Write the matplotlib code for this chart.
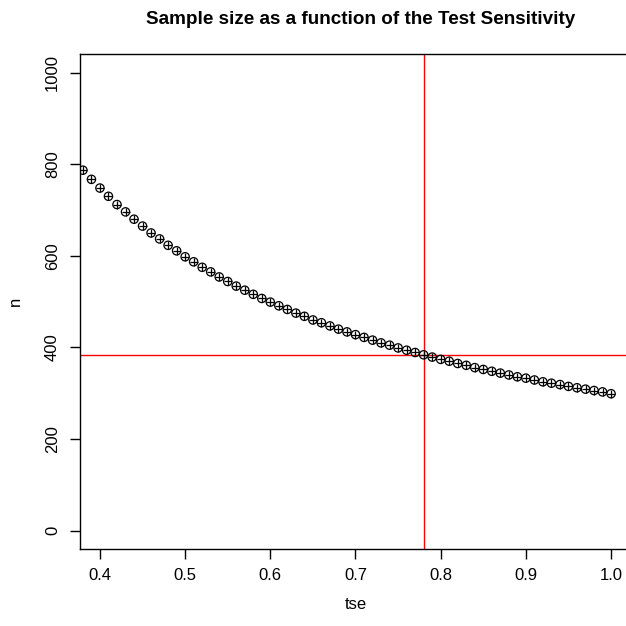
import numpy as np
import matplotlib.pyplot as plt

plt.rcParams['font.family'] = ['Liberation Sans', 'DejaVu Sans']

# test sensitivity and required sample size
tse = [0.38, 0.39, 0.40, 0.41, 0.42, 0.43, 0.44, 0.45, 0.46, 0.47,
       0.48, 0.49, 0.50, 0.51, 0.52, 0.53, 0.54, 0.55, 0.56, 0.57,
       0.58, 0.59, 0.60, 0.61, 0.62, 0.63, 0.64, 0.65, 0.66, 0.67,
       0.68, 0.69, 0.70, 0.71, 0.72, 0.73, 0.74, 0.75, 0.76, 0.77,
       0.78, 0.79, 0.80, 0.81, 0.82, 0.83, 0.84, 0.85, 0.86, 0.87,
       0.88, 0.89, 0.90, 0.91, 0.92, 0.93, 0.94, 0.95, 0.96, 0.97,
       0.98, 0.99, 1.00]
n = [787, 767, 748, 730, 712, 696, 680, 665, 650, 637,
     623, 611, 598, 587, 575, 565, 554, 544, 534, 525,
     516, 507, 499, 491, 483, 475, 468, 460, 454, 447,
     440, 434, 428, 422, 416, 410, 405, 399, 394, 389,
     384, 379, 374, 370, 365, 361, 356, 352, 348, 344,
     340, 336, 333, 329, 325, 322, 319, 315, 312, 309,
     306, 303, 299]

tse_ref = 0.78
n_ref = 384

xticks = [0.4, 0.5, 0.6, 0.7, 0.8, 0.9, 1.0]
yticks = [0, 200, 400, 600, 800, 1000]

fig = plt.figure(figsize=(6.26, 6.26), dpi=100)
ax = fig.add_axes([79.5 / 626, 77 / 626, 552 / 626, 494.7 / 626])

ax.scatter(tse, n, s=36, facecolors='none', edgecolors='black', linewidths=0.9, zorder=3)
ax.scatter(tse, n, s=36, marker='+', color='black', linewidths=0.9, zorder=3)

ax.axvline(tse_ref, color='#FF0000', lw=1.0, zorder=2)
ax.axhline(n_ref, color='#FF0000', lw=1.0, zorder=2)

ax.set_xlim(0.376, 1.024)
ax.set_ylim(-40, 1040)
ax.set_xticks(xticks)
ax.set_xticklabels(['%.1f' % v for v in xticks])
ax.set_yticks(yticks)
ax.set_yticklabels([str(v) for v in yticks], rotation=90, va='center')

for s in ax.spines.values():
    s.set_linewidth(1.0)
ax.tick_params(direction='out', length=7, width=1.0, labelsize=12, pad=7)
ax.tick_params(axis='y', pad=7)

ax.set_xlabel('tse', fontsize=12, labelpad=10)
ax.set_ylabel('n', fontsize=12, labelpad=16)
fig.text(361 / 626, 1 - 20 / 626, 'Sample size as a function of the Test Sensitivity',
         ha='center', va='center', fontsize=13.6, fontweight='bold')

fig.savefig('out.png', dpi=100)
